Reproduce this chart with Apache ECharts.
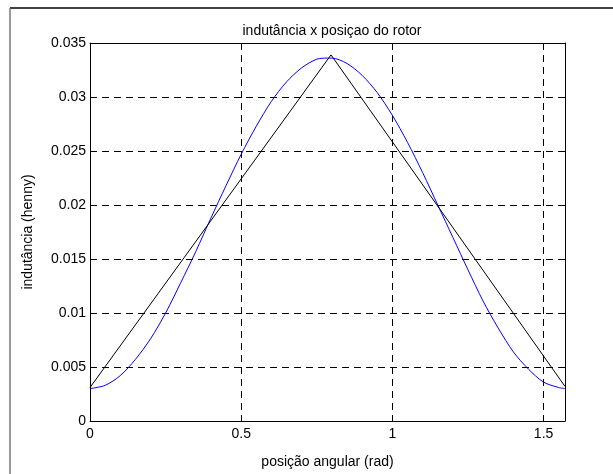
<!DOCTYPE html>
<html>
<head>
<meta charset="utf-8">
<title>indutância x posiçao do rotor</title>
<script src="https://cdn.jsdelivr.net/npm/echarts@6/dist/echarts.min.js"></script>
<style>
  html, body { margin: 0; padding: 0; background: #fff; }
  #main { width: 613px; height: 474px; }
</style>
</head>
<body>
<div id="main"></div>
<script>
// posição angular (rad) e indutância
var angulos = [0, 0.05, 0.1, 0.15, 0.2, 0.25, 0.3, 0.35, 0.4, 0.45, 0.5, 0.55, 0.6, 0.65, 0.7, 0.75, 0.785,
  0.8, 0.85, 0.9, 0.95, 1.0, 1.05, 1.1, 1.15, 1.2, 1.25, 1.3, 1.35, 1.4, 1.45, 1.5, 1.55, 1.5708];
var indutancia = [0.0030, 0.0033, 0.0042, 0.0057, 0.0076, 0.0100, 0.0128, 0.0157, 0.0188, 0.0218, 0.0247,
  0.0273, 0.0296, 0.0314, 0.0327, 0.0335, 0.0336, 0.0336, 0.0331, 0.0320, 0.0304, 0.0283, 0.0258, 0.0230,
  0.0200, 0.0170, 0.0140, 0.0111, 0.0086, 0.0064, 0.0048, 0.0036, 0.0031, 0.0030];
// aproximação linear (triângulo)
var aproxX = [0, 0.797, 1.5708];
var aproxY = [0.0031, 0.0339, 0.0032];
var xTicks = [0, 0.5, 1, 1.5];
var yTicks = [0, 0.005, 0.01, 0.015, 0.02, 0.025, 0.03, 0.035];

var fonte = 'Liberation Sans, Arial, sans-serif';
var myChart = echarts.init(document.getElementById('main'));

var eixoX = {
  type: 'value', min: 0, max: 1.5708, interval: 0.5,
  axisLine: { show: true, onZero: false, lineStyle: { color: '#000', width: 1 } },
  axisTick: { show: true, inside: true, length: 5, lineStyle: { color: '#000' } },
  splitLine: { show: true, lineStyle: { color: '#000', type: [7, 5], width: 1 } }
};
var eixoY = {
  type: 'value', min: 0, max: 0.035, interval: 0.005,
  axisLine: { show: true, onZero: false, lineStyle: { color: '#000', width: 1 } },
  axisTick: { show: true, inside: true, length: 5, lineStyle: { color: '#000' } },
  splitLine: { show: true, lineStyle: { color: '#000', type: [7, 5], width: 1 } }
};

var option = {
  animation: false,
  backgroundColor: '#fff',
  title: {
    text: 'indutância x posiçao do rotor',
    left: 327, top: 19, textAlign: 'center',
    textStyle: { fontFamily: fonte, fontSize: 14, fontWeight: 'normal', color: '#000' }
  },
  grid: { left: 90, right: 48, top: 43, bottom: 51 },
  xAxis: [
    Object.assign({}, eixoX, {
      position: 'bottom',
      name: 'posição angular (rad)', nameLocation: 'middle', nameGap: 34,
      nameTextStyle: { fontFamily: fonte, fontSize: 14, color: '#000' },
      axisLabel: {
        showMaxLabel: false, margin: 6, color: '#000', fontFamily: fonte, fontSize: 14,
        formatter: function (v) { return xTicks.indexOf(v) >= 0 ? String(v) : ''; }
      }
    }),
    Object.assign({}, eixoX, {
      position: 'top', axisLabel: { show: false }, splitLine: { show: false }
    })
  ],
  yAxis: [
    Object.assign({}, eixoY, {
      position: 'left',
      name: 'indutância (henny)', nameLocation: 'middle', nameGap: 55, nameRotate: 90,
      nameTextStyle: { fontFamily: fonte, fontSize: 14, color: '#000' },
      axisLabel: {
        margin: 4, color: '#000', fontFamily: fonte, fontSize: 14,
        formatter: function (v) { return String(+v.toFixed(3)); }
      }
    }),
    Object.assign({}, eixoY, {
      position: 'right', axisLabel: { show: false }, splitLine: { show: false }
    })
  ],
  graphic: [
    { type: 'line', shape: { x1: 10, y1: 8, x2: 613, y2: 8 }, style: { stroke: '#000', lineWidth: 1.5 } },
    { type: 'line', shape: { x1: 10, y1: 8, x2: 10, y2: 474 }, style: { stroke: '#777', lineWidth: 1.5 } }
  ],
  series: [
    {
      type: 'line', name: 'indutância',
      data: angulos.map(function (a, i) { return [a, indutancia[i]]; }),
      smooth: 0.3, showSymbol: false,
      lineStyle: { color: '#0000ff', width: 1 }, z: 3
    },
    {
      type: 'line', name: 'aproximação',
      data: aproxX.map(function (a, i) { return [a, aproxY[i]]; }),
      showSymbol: false,
      lineStyle: { color: '#000', width: 1 }, z: 4
    }
  ]
};
myChart.setOption(option);
</script>
</body>
</html>
